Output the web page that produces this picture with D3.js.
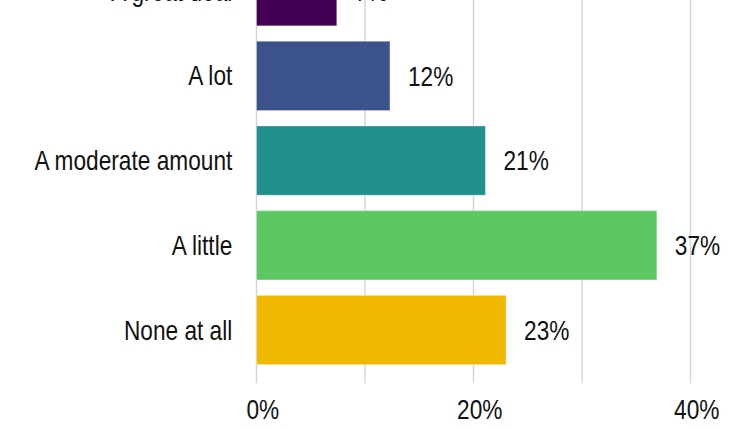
<!DOCTYPE html>
<html>
<head>
<meta charset="utf-8">
<script src="https://cdn.jsdelivr.net/npm/d3@7"></script>
<style>
  html, body { margin: 0; padding: 0; background: #ffffff; }
  svg { display: block; }
  text { font-family: "Liberation Sans", Arial, Helvetica, sans-serif; fill: #111111; }
</style>
</head>
<body>
<svg id="chart" width="750" height="430"></svg>
<script>
const categories = ["A great deal", "A lot", "A moderate amount", "A little", "None at all"];
const values = [7.4, 12.3, 21.1, 36.9, 23.0];
const colors = ["#440154", "#3b528b", "#21908c", "#5dc863", "#f0b800"];
const gridTicks = [0, 10, 20, 30, 40];
const labelTicks = [0, 20, 40];

const svg = d3.select("#chart");
const W = 750, H = 430;
const plotTop = -62.1, plotBottom = 383.3;
const x = d3.scaleLinear().domain([0, 40]).range([256.5, 690.5]);
const y = d3.scaleBand().domain(categories).range([plotTop, plotBottom])
  .paddingInner(0.182).paddingOuter(0.22);

const fontSize = 27;
const squeeze = 0.84;

// gridlines
svg.append("g").selectAll("line").data(gridTicks).join("line")
  .attr("x1", d => x(d)).attr("x2", d => x(d))
  .attr("y1", plotTop).attr("y2", plotBottom)
  .attr("stroke", "#d4d4d4").attr("stroke-width", 1.4);

// bars
svg.append("g").selectAll("rect").data(categories).join("rect")
  .attr("x", x(0))
  .attr("y", d => y(d))
  .attr("width", (d, i) => x(values[i]) - x(0))
  .attr("height", y.bandwidth())
  .attr("fill", (d, i) => colors[i])
  .attr("stroke", "rgba(255,255,255,0.35)")
  .attr("stroke-width", 1);

function addText(g, tx, ty, str, anchor) {
  g.append("g").attr("transform", `translate(${tx},${ty}) scale(${squeeze},1)`)
    .append("text")
    .attr("x", 0).attr("y", 0)
    .attr("text-anchor", anchor)
    .attr("font-size", fontSize)
    .text(str);
}

// category labels
const catG = svg.append("g");
categories.forEach((c, i) => {
  const cy = y(c) + y.bandwidth() / 2;
  addText(catG, 232.3, cy + 9.5, c, "end");
});

// value labels
const valG = svg.append("g");
categories.forEach((c, i) => {
  const cy = y(c) + y.bandwidth() / 2;
  addText(valG, x(values[i]) + 18, cy + 9.8, Math.round(values[i]) + "%", "start");
});

// x tick labels
const tickG = svg.append("g");
labelTicks.forEach(t => {
  addText(tickG, x(t) + 6.3, 419, t + "%", "middle");
});
</script>
</body>
</html>
